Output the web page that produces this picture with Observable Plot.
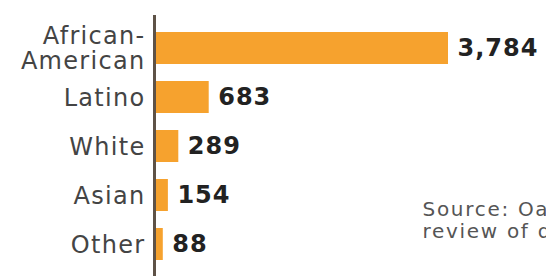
<!DOCTYPE html>
<html>
<head>
<meta charset="utf-8">
<script src="https://cdn.jsdelivr.net/npm/d3@7"></script>
<script src="https://cdn.jsdelivr.net/npm/@observablehq/plot@0.6"></script>
<style>
  html, body { margin: 0; padding: 0; background: #fff; overflow: hidden; }
</style>
</head>
<body>
<div id="chart"></div>
<script>
const categories = ["African-American", "Latino", "White", "Asian", "Other"];
const categoryLabels = ["African-\nAmerican", "Latino", "White", "Asian", "Other"];
const values = [3784, 683, 289, 154, 88];
const sourceLines = ["Source: Oakland Police Department", "review of data"];

const data = categories.map((c, i) => ({category: c, label: categoryLabels[i], value: values[i]}));
const fmt = d3.format(",");

const chart = Plot.plot({
  width: 546,
  height: 276,
  marginLeft: 156,
  marginRight: 98,
  marginTop: 15,
  marginBottom: 0,
  style: {fontFamily: "DejaVu Sans", background: "#fff"},
  x: {domain: [0, d3.max(values)], axis: null},
  y: {domain: categories, range: [13, 279], padding: 0.34, axis: null},
  marks: [
    Plot.barX(data, {x: "value", y: "category", fill: "#F6A22E"}),
    Plot.ruleX([0], {stroke: "#5e5247", strokeWidth: 3, dx: -2}),
    Plot.text(data, {
      y: "category", frameAnchor: "left", dx: -11, textAnchor: "end",
      text: "label", fontSize: 24, lineHeight: 1.05, fill: "#444"
    }),
    Plot.text(data, {
      x: "value", y: "category", text: d => fmt(d.value), dx: 9, textAnchor: "start",
      fontWeight: "bold", fontSize: 24, fill: "#222"
    }),
    Plot.text([sourceLines.join("\n")], {
      frameAnchor: "top-left", dx: 266, dy: 185, textAnchor: "start", lineAnchor: "top",
      fontSize: 20, lineHeight: 1.1, fill: "#555"
    })
  ]
});

const groups = chart.querySelectorAll("g[aria-label='text']");
const spacings = ["1.3px", "1px", "1.7px"];
groups.forEach((g, i) => { g.style.letterSpacing = spacings[i] || "0px"; });

document.getElementById("chart").appendChild(chart);
</script>
</body>
</html>
